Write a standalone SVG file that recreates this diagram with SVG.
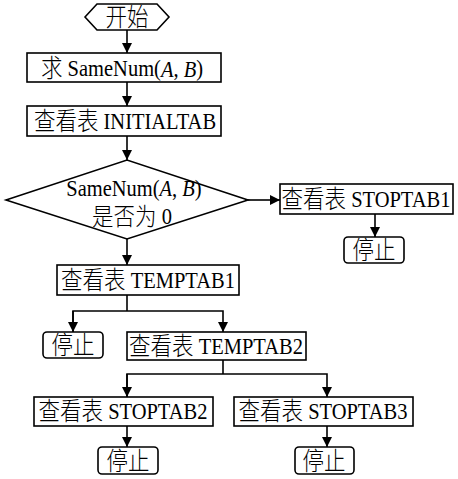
<svg xmlns="http://www.w3.org/2000/svg" width="458" height="479" viewBox="0 0 458 479">
<style>
.box{fill:#fff;stroke:#000;stroke-width:1.6}
.ln{fill:none;stroke:#000;stroke-width:1.6}
text{font-family:"Liberation Serif","Noto Sans CJK SC",serif;font-size:20.5px;fill:#000;text-anchor:middle;dominant-baseline:central}
.c{font-size:21.5px;font-weight:300}
</style>
<defs>
<marker id="ah" markerWidth="10" markerHeight="12" refX="10" refY="5" orient="auto" markerUnits="userSpaceOnUse">
<path d="M0,0 L10,5 L0,10 Z" fill="#000"/>
</marker>
</defs>
<rect width="458" height="479" fill="#fff"/>
<g id="connectors">
<path class="ln" d="M127,30 V53" marker-end="url(#ah)"/>
<path class="ln" d="M127,82 V106" marker-end="url(#ah)"/>
<path class="ln" d="M127,136 V160" marker-end="url(#ah)"/>
<path class="ln" d="M248,200 H280" marker-end="url(#ah)"/>
<path class="ln" d="M375,214 V237" marker-end="url(#ah)"/>
<path class="ln" d="M127,239 V265" marker-end="url(#ah)"/>
<path class="ln" d="M127,295 V311"/>
<path class="ln" d="M73,332 V311 H223 V332" marker-end="url(#ah)"/>
<path class="ln" d="M73,311 V332" marker-end="url(#ah)"/>
<path class="ln" d="M223,360 V374"/>
<path class="ln" d="M127,397 V374 H327 V397" marker-end="url(#ah)"/>
<path class="ln" d="M127,374 V397" marker-end="url(#ah)"/>
<path class="ln" d="M127,426 V447" marker-end="url(#ah)"/>
<path class="ln" d="M327,426 V447" marker-end="url(#ah)"/>
</g>
<g id="start">
<polygon class="box" points="85,17 97,4 157,4 169,17 157,30 97,30"/>
<text transform="translate(127,17) scale(1,1.15)"><tspan class="c">开始</tspan></text>
</g>
<g id="samenum">
<rect class="box" x="27" y="53" width="194" height="29"/>
<text transform="translate(122,68) scale(1,1.15)"><tspan class="c">求</tspan> SameNum(<tspan font-style="italic">A</tspan>, <tspan font-style="italic">B</tspan>)</text>
</g>
<g id="initialtab">
<rect class="box" x="27" y="106" width="194" height="30"/>
<text transform="translate(125,121) scale(1,1.15)"><tspan class="c">查看表</tspan> INITIALTAB</text>
</g>
<g id="decision">
<polygon class="box" points="6,200 127,160 248,200 127,239"/>
<text transform="translate(134,189) scale(1,1.1)">SameNum(<tspan font-style="italic">A</tspan>, <tspan font-style="italic">B</tspan>)</text>
<text transform="translate(132,217) scale(1,1.1)"><tspan class="c">是否为</tspan> 0</text>
</g>
<g id="stoptab1">
<rect class="box" x="280" y="184" width="173" height="30"/>
<text transform="translate(366,199) scale(1,1.15)"><tspan class="c">查看表</tspan> STOPTAB1</text>
</g>
<g id="stop1">
<rect class="box" x="344" y="237" width="60" height="26" rx="4"/>
<text transform="translate(374,250) scale(1,1.15)"><tspan class="c">停止</tspan></text>
</g>
<g id="temptab1">
<rect class="box" x="57" y="265" width="182" height="30"/>
<text transform="translate(148,280) scale(1,1.15)"><tspan class="c">查看表</tspan> TEMPTAB1</text>
</g>
<g id="stop2">
<rect class="box" x="43" y="332" width="60" height="26" rx="4"/>
<text transform="translate(73,345) scale(1,1.15)"><tspan class="c">停止</tspan></text>
</g>
<g id="temptab2">
<rect class="box" x="127" y="332" width="179" height="28"/>
<text transform="translate(216,346) scale(1,1.15)"><tspan class="c">查看表</tspan> TEMPTAB2</text>
</g>
<g id="stoptab2">
<rect class="box" x="34" y="397" width="179" height="29"/>
<text transform="translate(123,411) scale(1,1.15)"><tspan class="c">查看表</tspan> STOPTAB2</text>
</g>
<g id="stoptab3">
<rect class="box" x="234" y="397" width="179" height="29"/>
<text transform="translate(323,411) scale(1,1.15)"><tspan class="c">查看表</tspan> STOPTAB3</text>
</g>
<g id="stop3">
<rect class="box" x="98" y="447" width="60" height="27" rx="4"/>
<text transform="translate(128,461) scale(1,1.15)"><tspan class="c">停止</tspan></text>
</g>
<g id="stop4">
<rect class="box" x="295" y="447" width="59" height="27" rx="4"/>
<text transform="translate(324,461) scale(1,1.15)"><tspan class="c">停止</tspan></text>
</g>
</svg>
